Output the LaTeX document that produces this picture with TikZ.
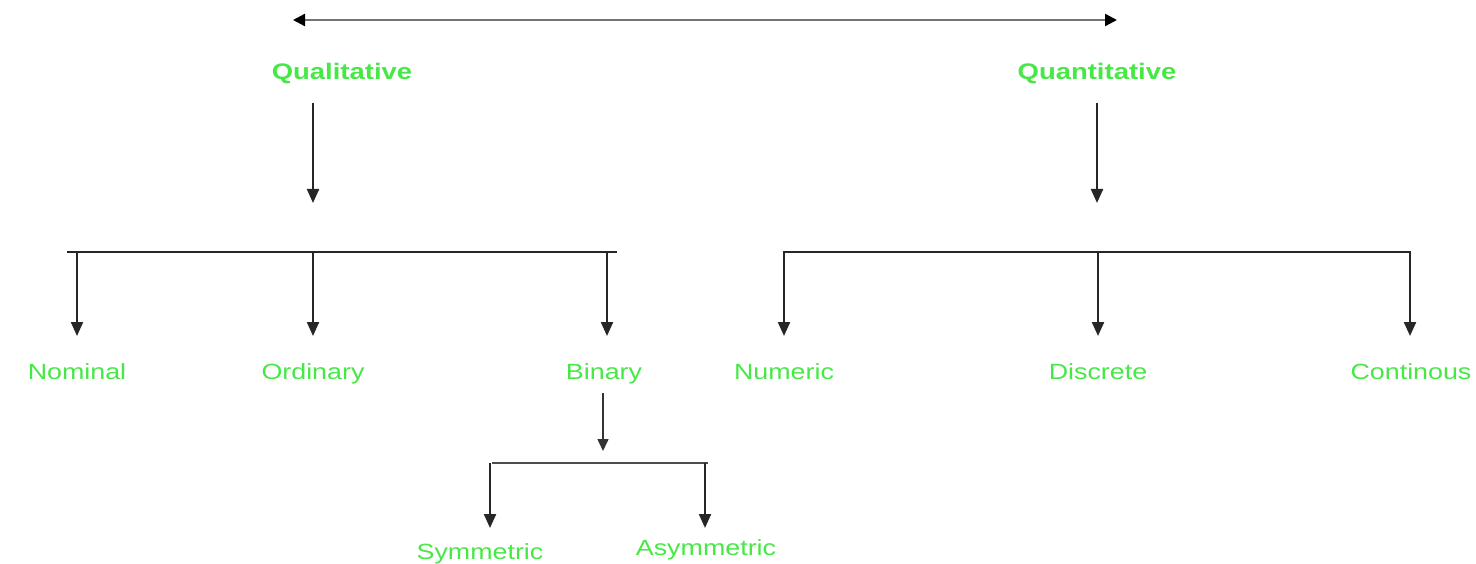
\documentclass[tikz,border=0pt]{standalone}
\usepackage{fontspec}
\setmainfont{Liberation Sans}[FakeStretch=1.22]
\usetikzlibrary{arrows.meta}
\definecolor{lbl}{RGB}{70,232,70}
\begin{document}
\begin{tikzpicture}[x=1pt,y=-1pt,
  lab/.style={text=lbl,font=\fontsize{22}{25}\selectfont,inner sep=0pt,anchor=base},
  head/.style={lab,font=\fontsize{22.5}{25}\selectfont\bfseries},
  ln/.style={line width=2.2pt,draw=black!85},
  arr/.style={ln,-{Triangle[length=14pt,width=12pt]}}]
\useasboundingbox (0,0) rectangle (1476,564);
% top double arrow
\coordinate (tl) at (293,20);
\coordinate (tr) at (1117,20);
\draw[line width=2.4pt,draw=black!55,{Triangle[length=12pt,width=12pt,black]}-{Triangle[length=12pt,width=12pt,black]}] (tl) -- (tr);
% headings
\node[head] (qual) at (342,80) {Qualitative};
\node[head] (quan) at (1097,80) {Quantitative};
% heading arrows
\coordinate (qa1) at (313,103); \coordinate (qa2) at (313,203);
\coordinate (na1) at (1097,103); \coordinate (na2) at (1097,203);
\draw[arr] (qa1) -- (qa2);
\draw[arr] (na1) -- (na2);
% left bar
\coordinate (lb1) at (67,252); \coordinate (lb2) at (617,252);
\draw[ln] (lb1) -- (lb2);
\coordinate (l1) at (77,252); \coordinate (l1e) at (77,336);
\coordinate (l2) at (313,252); \coordinate (l2e) at (313,336);
\coordinate (l3) at (607,252); \coordinate (l3e) at (607,336);
\draw[arr] (l1) -- (l1e);
\draw[arr] (l2) -- (l2e);
\draw[arr] (l3) -- (l3e);
% right bar
\coordinate (rb1) at (783,252); \coordinate (rb2) at (1411,252);
\draw[ln] (rb1) -- (rb2);
\coordinate (r1) at (784,252); \coordinate (r1e) at (784,336);
\coordinate (r2) at (1098,252); \coordinate (r2e) at (1098,336);
\coordinate (r3) at (1410,252); \coordinate (r3e) at (1410,336);
\draw[arr] (r1) -- (r1e);
\draw[arr] (r2) -- (r2e);
\draw[arr] (r3) -- (r3e);
% second-level labels
\node[lab] (nom) at (77,379) {Nominal};
\node[lab] (ord) at (313,379) {Ordinary};
\node[lab] (bin) at (604,379) {Binary};
\node[lab] (num) at (784,379) {Numeric};
\node[lab] (dis) at (1098,379) {Discrete};
\node[lab] (con) at (1411,379) {Continous};
% binary subtree
\coordinate (ba1) at (603,393); \coordinate (ba2) at (603,451);
\draw[line width=1.6pt,draw=black!80,-{Triangle[length=12pt,width=11pt]}] (ba1) -- (ba2);
\coordinate (bb1) at (492,463); \coordinate (bb2) at (708,463);
\draw[line width=1.8pt,draw=black!70] (bb1) -- (bb2);
\coordinate (s1) at (490,463); \coordinate (s1e) at (490,528);
\coordinate (s2) at (705,463); \coordinate (s2e) at (705,528);
\draw[arr] (s1) -- (s1e);
\draw[arr] (s2) -- (s2e);
\node[lab] (sym) at (480,559) {Symmetric};
\node[lab] (asym) at (706,555) {Asymmetric};
\end{tikzpicture}
\end{document}
